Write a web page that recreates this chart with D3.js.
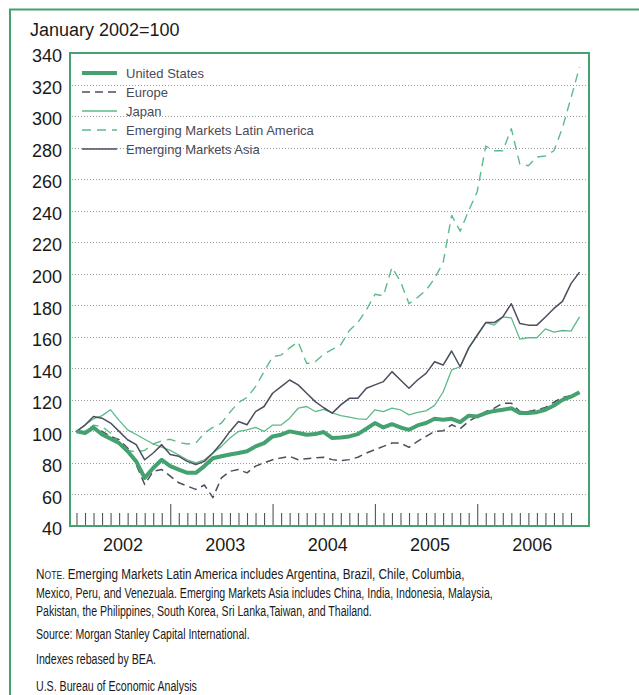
<!DOCTYPE html>
<html>
<head>
<meta charset="utf-8">
<script src="https://cdn.jsdelivr.net/npm/d3@7"></script>
<style>
  body { margin: 0; background: #fff; }
  svg { display: block; font-family: "Liberation Sans", Arial, sans-serif; }
</style>
</head>
<body>
<div id="chart"></div>
<script>
// Monthly index, January 2002 = 100 (Jan 2002 .. Dec 2006)
const months = d3.range(60);
const years = ["2002", "2003", "2004", "2005", "2006"];
const yTicks = [40, 60, 80, 100, 120, 140, 160, 180, 200, 220, 240, 260, 280, 300, 320, 340];

const unitedStates = [100, 99, 102.5, 98, 95.4, 92.6, 87.4, 81, 70.5, 76.8, 82, 78,
    75.8, 73.7, 73.7, 78, 83, 84.2, 85.3, 86.3, 87.4, 90.5, 92.6, 96.8,
    97.9, 100, 99, 97.9, 98.3, 99.6, 95.8, 96.2, 96.8, 98.3, 101.7, 105.3,
    102.5, 104.6, 102.5, 101, 103.8, 105.3, 108, 107.4, 108, 105.9, 110, 109.5,
    111.6, 113, 113.7, 114.7, 111.6, 111.6, 112.2, 113.7, 116.4, 120, 122, 124.8];

const europe = [100, 99, 102, 100, 96.8, 94.7, 89.5, 79, 66.3, 74.7, 75.8, 71.6,
    67.4, 65.3, 63.2, 66, 58, 70.5, 74.7, 75.8, 73.7, 78, 80, 82,
    83.2, 84.2, 82, 82.7, 83.2, 83.6, 82.1, 81.5, 82.1, 83.6, 86.3, 88.4,
    90.5, 92.6, 92.6, 89.9, 93.7, 96.8, 100, 100.4, 104.2, 101.7, 106.3, 109.5,
    112.6, 114.7, 117.9, 117.9, 112.6, 112.6, 113.7, 115.2, 118.5, 121.5, 122.7, 124.2];

const japan = [100, 104, 108, 110, 113.7, 107, 101, 98, 95, 92, 90, 88,
    85, 82, 80, 82, 86.3, 90.5, 95.8, 100, 101, 102.5, 100, 104,
    104, 108.4, 114.7, 115.8, 112.6, 114, 111.8, 110, 109, 108, 107.6, 113.7,
    112.6, 114.7, 113.7, 110.5, 112, 113, 116.5, 125, 139, 141, 152.6, 161,
    169, 167.4, 172.6, 172, 158.5, 159.4, 159.4, 165, 163, 164, 163.6, 172.6];

const latinAmerica = [100, 100, 104, 103, 99, 93, 88, 87, 88, 92, 94, 95,
    93, 92, 92.6, 99, 102.5, 105.3, 112.2, 118.3, 121.5, 128.4, 137.9, 147.4,
    148.4, 153, 156.8, 143, 144.2, 149, 152, 155, 164, 169, 177, 187,
    186, 204, 195, 181, 185, 189.5, 197, 207, 237, 227, 240, 252,
    281, 278, 278, 292, 269.5, 268.5, 274, 274.7, 278, 292.6, 311.6, 331];

const asia = [100, 104, 109.5, 108.4, 105.3, 100, 94.7, 91.6, 82, 86.3, 91.6, 85.3,
    84.2, 81, 79, 81, 86.3, 92.6, 100, 106.3, 104.2, 112.6, 115.8, 124.2,
    128.4, 132.6, 129.5, 124.2, 118.9, 115, 111.6, 116.8, 121, 121, 127.4, 129.5,
    131.6, 137.9, 132.6, 127.4, 132.6, 136.8, 144.2, 142.1, 151, 141, 153, 161,
    169, 169, 172.6, 181, 168.4, 167.4, 167.4, 172.6, 178, 182.5, 193.7, 201];

const seriesNames = ["United States", "Europe", "Japan", "Emerging Markets Latin America", "Emerging Markets Asia"];
const seriesValues = [unitedStates, europe, japan, latinAmerica, asia];

const green = "#45a270";
const lightGreen = "#5dba8b";
const slate = "#4d4d5e";
const styles = [
    { color: green, width: 4, dash: null },
    { color: slate, width: 1.5, dash: "8,5" },
    { color: lightGreen, width: 1.3, dash: null },
    { color: lightGreen, width: 1.4, dash: "9,6" },
    { color: slate, width: 1.5, dash: null }
];

const W = 639, H = 695;
const plot = { left: 70, right: 589, top: 53, bottom: 526 };

const svg = d3.select("#chart")
    .append("svg")
    .attr("width", W)
    .attr("height", H);

// outer frame
svg.append("path")
    .attr("d", `M10,${H}V9.5H${W}`)
    .attr("fill", "none")
    .attr("stroke", green)
    .attr("stroke-width", 2);

const x = d3.scaleLinear()
    .domain([-0.76, 60.11])
    .range([plot.left, plot.right]);

const y = d3.scaleLinear()
    .domain([40, 340])
    .range([plot.bottom, plot.top]);

// dotted grid
svg.append("g")
    .selectAll("line")
    .data(yTicks.filter(d => d > 40 && d < 340))
    .enter()
    .append("line")
    .attr("x1", plot.left + 2)
    .attr("x2", plot.right - 2)
    .attr("y1", d => Math.round(y(d)) + 0.5)
    .attr("y2", d => Math.round(y(d)) + 0.5)
    .attr("stroke", "#9a9a9a")
    .attr("stroke-width", 1)
    .attr("stroke-dasharray", "1,2");

// y labels (sit a little below their gridlines, as in the print)
const yAxis = svg.append("g")
    .attr("transform", `translate(${plot.left},3)`)
    .call(d3.axisLeft(y).tickValues(yTicks).tickSize(0).tickPadding(8));
yAxis.select(".domain").remove();
yAxis.selectAll("text")
    .attr("font-size", 18)
    .attr("font-family", "Liberation Sans, Arial, sans-serif")
    .attr("fill", "#1a1a1a");

// month ticks pointing up from the bottom
const minor = svg.append("g")
    .attr("transform", `translate(0,${plot.bottom})`)
    .call(d3.axisTop(x).tickValues(months.filter(m => (m + 1) % 12 !== 0)).tickSize(13).tickFormat(""));
minor.select(".domain").remove();
minor.selectAll("line").attr("stroke", "#555").attr("stroke-width", 1.1);

const major = svg.append("g")
    .attr("transform", `translate(0,${plot.bottom})`)
    .call(d3.axisTop(x).tickValues(months.filter(m => (m + 1) % 12 === 0 && m < 59)).tickSize(22).tickFormat(""));
major.select(".domain").remove();
major.selectAll("line").attr("stroke", "#555").attr("stroke-width", 1.1);

// year labels centred in each year
const yearAxis = svg.append("g")
    .attr("transform", `translate(0,${plot.bottom})`)
    .call(d3.axisBottom(x).tickValues(years.map((d, i) => 5.4 + 12 * i)).tickSize(0).tickPadding(12)
        .tickFormat((d, i) => years[i]));
yearAxis.select(".domain").remove();
yearAxis.selectAll("text")
    .attr("font-size", 18)
    .attr("font-family", "Liberation Sans, Arial, sans-serif")
    .attr("fill", "#1a1a1a");

// lines
const line = d3.line()
    .x((d, i) => x(months[i]))
    .y(d => y(d));

const order = [1, 3, 2, 4, 0];
svg.append("g")
    .selectAll("path")
    .data(order)
    .enter()
    .append("path")
    .attr("d", i => line(seriesValues[i]))
    .attr("fill", "none")
    .attr("stroke", i => styles[i].color)
    .attr("stroke-width", i => styles[i].width)
    .attr("stroke-dasharray", i => styles[i].dash)
    .attr("stroke-linejoin", "round");

// plot border
svg.append("rect")
    .attr("x", plot.left)
    .attr("y", plot.top)
    .attr("width", plot.right - plot.left)
    .attr("height", plot.bottom - plot.top)
    .attr("fill", "none")
    .attr("stroke", green)
    .attr("stroke-width", 2);

// legend
const legend = svg.append("g")
    .selectAll("g")
    .data(seriesNames)
    .enter()
    .append("g")
    .attr("transform", (d, i) => `translate(82,${73 + i * 19})`);

legend.append("line")
    .attr("x1", 0)
    .attr("x2", 35)
    .attr("stroke", (d, i) => styles[i].color)
    .attr("stroke-width", (d, i) => styles[i].width)
    .attr("stroke-dasharray", (d, i) => styles[i].dash);

legend.append("text")
    .attr("x", 44)
    .attr("dy", "0.35em")
    .attr("font-size", 13)
    .attr("fill", "#4a4a58")
    .text(d => d);

// title
svg.append("text")
    .attr("x", 30)
    .attr("y", 36)
    .attr("font-size", 18)
    .attr("fill", "#1a1a1a")
    .text("January 2002=100");

// notes: the print uses a narrow face, so squeeze each line horizontally to its width
const notes = [
    { y: 579, w: 429, text: "Emerging Markets Latin America includes Argentina, Brazil, Chile, Columbia,", note: true },
    { y: 598, w: 457, text: "Mexico, Peru, and Venezuala. Emerging Markets Asia includes China, India, Indonesia, Malaysia," },
    { y: 616, w: 336, text: "Pakistan, the Philippines, South Korea, Sri Lanka,Taiwan, and Thailand." },
    { y: 639, w: 214, text: "Source: Morgan Stanley Capital International." },
    { y: 664, w: 120, text: "Indexes rebased by BEA." },
    { y: 691, w: 161, text: "U.S. Bureau of Economic Analysis" }
];

notes.forEach(n => {
    const t = svg.append("text")
        .attr("font-size", 15)
        .attr("fill", "#1a1a1a");
    if (n.note) {
        t.append("tspan").text("N");
        t.append("tspan").attr("font-size", 11).text("OTE.");
        t.append("tspan").text(" " + n.text);
    } else {
        t.text(n.text);
    }
    const natural = t.node().getComputedTextLength();
    t.attr("transform", `translate(36,${n.y}) scale(${n.w / natural},1)`);
});
</script>
</body>
</html>
